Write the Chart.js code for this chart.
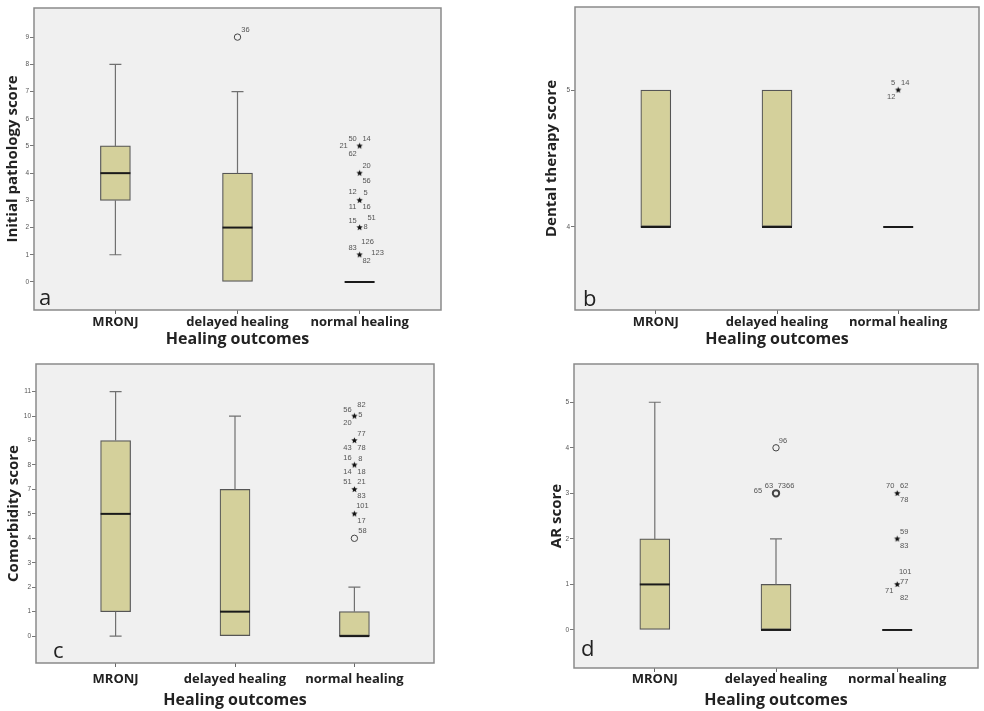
<!DOCTYPE html>
<html>
<head>
<meta charset="utf-8">
<script src="https://cdn.jsdelivr.net/npm/chart.js@4.4.1/dist/chart.umd.min.js"></script>
<style>
  body { margin: 0; background: #fff; width: 984px; height: 711px; position: relative; overflow: hidden; }
  canvas { position: absolute; }
</style>
</head>
<body>
<canvas id="chartA" width="490" height="350" style="left:0;top:0"></canvas>
<canvas id="chartB" width="494" height="350" style="left:490px;top:0"></canvas>
<canvas id="chartC" width="490" height="361" style="left:0;top:350px"></canvas>
<canvas id="chartD" width="494" height="361" style="left:490px;top:350px"></canvas>
<script>
// Groups on the x axis
const groups = ["MRONJ", "delayed healing", "normal healing"];

// Box stats per group: [min, q1, median, q3, max]
const pathologyBoxes = [[1, 3, 4, 5, 8], [0, 0, 2, 4, 7], [0, 0, 0, 0, 0]];
const dentalBoxes = [[4, 4, 4, 5, 5], [4, 4, 4, 5, 5], [4, 4, 4, 4, 4]];
const comorbidityBoxes = [[0, 1, 5, 9, 11], [0, 0, 1, 7, 10], [0, 0, 0, 1, 2]];
const arBoxes = [[0, 0, 1, 2, 5], [0, 0, 0, 1, 2], [0, 0, 0, 0, 0]];

// Tick labels on the y axis (comorbidity axis skips 6, as in the original)
const pathologyTicks = ["0", "1", "2", "3", "4", "5", "6", "7", "8", "9"];
const dentalTicks = ["4", "5"];
const comorbidityTicks = ["0", "1", "2", "3", "4", "5", "7", "8", "9", "10", "11"];
const arTicks = ["0", "1", "2", "3", "4", "5"];

// Outliers: [group number, value, marker, case ids]
const pathologyOutliers = [
  [2, 9, "circle", ["36"]],
  [3, 5, "star", ["50", "14", "21", "62"]],
  [3, 4, "star", ["20", "56"]],
  [3, 3, "star", ["12", "5", "11", "16"]],
  [3, 2, "star", ["15", "51", "8"]],
  [3, 1, "star", ["126", "83", "123", "82"]]
];
const dentalOutliers = [
  [3, 5, "star", ["5", "14", "12"]]
];
const comorbidityOutliers = [
  [3, 10, "star", ["56", "82", "5", "20"]],
  [3, 9, "star", ["77", "43", "78"]],
  [3, 8, "star", ["16", "8", "14", "18"]],
  [3, 7, "star", ["51", "21", "83"]],
  [3, 5, "star", ["101", "17"]],
  [3, 4, "circle", ["58"]]
];
const arOutliers = [
  [2, 4, "circle", ["96"]],
  [2, 3, "circle", ["65", "63", "7366"]],
  [3, 3, "star", ["70", "62", "78"]],
  [3, 2, "star", ["59", "83"]],
  [3, 1, "star", ["101", "77", "71", "82"]]
];

// Where each case id sits around its marker (px)
const pathologyIdPos = [
  [[8, -7]],
  [[-7, -7], [7, -7], [-16, 0], [-7, 8]],
  [[7, -7], [7, 8]],
  [[-7, -8], [6, -7], [-7, 7], [7, 7]],
  [[-7, -7], [12, -10], [6, -1]],
  [[8, -13], [-7, -7], [18, -2], [7, 6]]
];
const dentalIdPos = [[[-5, -7], [7, -7], [-7, 7]]];
const comorbidityIdPos = [
  [[-7, -6], [7, -11], [6, -1], [-7, 7]],
  [[7, -7], [-7, 7], [7, 7]],
  [[-7, -7], [6, -6], [-7, 7], [7, 7]],
  [[-7, -7], [7, -7], [7, 7]],
  [[8, -8], [7, 7]],
  [[8, -7]]
];
const arIdPos = [
  [[7, -7]],
  [[-18, -2], [-7, -7], [10, -7]],
  [[-7, -7], [7, -7], [7, 7]],
  [[7, -7], [7, 7]],
  [[8, -12], [7, -2], [-8, 7], [7, 14]]
];

const BOX_FILL = "#d4d09b";
const FONT = '"Open Sans", "DejaVu Sans", sans-serif';

// small filled star used as point style
function starImage(r, color) {
  const c = document.createElement("canvas");
  const s = Math.ceil(r * 2 + 2);
  c.width = c.height = s;
  const g = c.getContext("2d");
  g.fillStyle = color;
  g.beginPath();
  for (let i = 0; i < 10; i++) {
    const a = -Math.PI / 2 + i * Math.PI / 5;
    const rr = i % 2 ? r * 0.45 : r;
    g.lineTo(s / 2 + rr * Math.cos(a), s / 2 + rr * Math.sin(a));
  }
  g.closePath();
  g.fill();
  return c;
}
const starStyle = starImage(3.3, "#111");

function makePanel(id, P) {
  const pos = v => P.ticks.indexOf(String(v));

  const boxData = P.boxes
    .map((b, i) => ({ x: i + 1, y: [pos(b[1]), pos(b[3])] }))
    .filter(d => d.y[0] !== d.y[1]);

  const circles = P.outliers.filter(o => o[2] === "circle");
  const stars = P.outliers.filter(o => o[2] === "star");

  const boxPlugin = {
    id: "boxplot",
    beforeDraw(chart) {
      const { ctx, chartArea: a } = chart;
      ctx.save();
      ctx.fillStyle = "#f0f0f0";
      ctx.fillRect(a.left, a.top, a.right - a.left, a.bottom - a.top);
      ctx.restore();
    },
    afterDatasetsDraw(chart) {
      const { ctx, chartArea: a } = chart;
      const xs = chart.scales.x, ys = chart.scales.y;
      ctx.save();
      P.boxes.forEach((b, i) => {
        const cx = xs.getPixelForValue(i + 1);
        const yMin = ys.getPixelForValue(pos(b[0]));
        const yQ1 = ys.getPixelForValue(pos(b[1]));
        const yMed = ys.getPixelForValue(pos(b[2]));
        const yQ3 = ys.getPixelForValue(pos(b[3]));
        const yMax = ys.getPixelForValue(pos(b[4]));
        ctx.strokeStyle = "#707070";
        ctx.lineWidth = 1.2;
        if (b[4] > b[3]) {
          ctx.beginPath();
          ctx.moveTo(cx, yQ3); ctx.lineTo(cx, yMax);
          ctx.moveTo(cx - 6, yMax); ctx.lineTo(cx + 6, yMax);
          ctx.stroke();
        }
        if (b[0] < b[1]) {
          ctx.beginPath();
          ctx.moveTo(cx, yQ1); ctx.lineTo(cx, yMin);
          ctx.moveTo(cx - 6, yMin); ctx.lineTo(cx + 6, yMin);
          ctx.stroke();
        }
        // median
        ctx.strokeStyle = "#1a1a1a";
        ctx.lineWidth = 2;
        ctx.beginPath();
        ctx.moveTo(cx - 15, yMed); ctx.lineTo(cx + 15, yMed);
        ctx.stroke();
      });

      // case ids next to outliers
      ctx.font = "7.5px Arial, sans-serif";
      ctx.fillStyle = "#555";
      ctx.textAlign = "center";
      ctx.textBaseline = "middle";
      P.outliers.forEach((o, k) => {
        const px = xs.getPixelForValue(o[0]);
        const py = ys.getPixelForValue(pos(o[1]));
        o[3].forEach((t, j) => {
          const off = P.idPos[k][j];
          ctx.fillText(t, px + off[0], py + off[1]);
        });
      });

      // plot frame
      ctx.strokeStyle = "#8a8a8a";
      ctx.lineWidth = 1.5;
      ctx.strokeRect(a.left, a.top, a.right - a.left, a.bottom - a.top);

      // panel letter
      ctx.font = "22px " + FONT;
      ctx.fillStyle = "#222";
      ctx.textAlign = "left";
      ctx.textBaseline = "alphabetic";
      ctx.fillText(P.letter, a.left + P.letterDx, a.bottom - P.letterDy);
      ctx.restore();
    }
  };

  new Chart(document.getElementById(id), {
    type: "bar",
    data: {
      datasets: [
        {
          type: "bar",
          data: boxData,
          backgroundColor: BOX_FILL,
          borderColor: "#555",
          borderWidth: 1.2,
          borderSkipped: false,
          barThickness: 30,
          grouped: false
        },
        {
          type: "scatter",
          data: circles.map(o => ({ x: o[0], y: pos(o[1]) })),
          pointStyle: "circle",
          pointRadius: 3.2,
          pointBackgroundColor: "rgba(0,0,0,0)",
          pointBorderColor: "#444",
          pointBorderWidth: circles.map(o => (o[3].length > 1 ? 2 : 1))
        },
        {
          type: "scatter",
          data: stars.map(o => ({ x: o[0], y: pos(o[1]) })),
          pointStyle: starStyle
        }
      ]
    },
    options: {
      responsive: false,
      animation: false,
      layout: { padding: { left: 0, top: P.top, right: P.right, bottom: 0 } },
      plugins: { legend: { display: false }, tooltip: { enabled: false } },
      scales: {
        x: {
          type: "linear",
          min: 1 / 3,
          max: 11 / 3,
          offset: false,
          afterBuildTicks: s => { s.ticks = groups.map((g, i) => ({ value: i + 1 })); },
          afterFit: s => { s.height = P.xHeight; },
          grid: { offset: false, drawOnChartArea: false, drawTicks: true, tickLength: 4, color: "#666" },
          border: { display: false },
          ticks: {
            autoSkip: false,
            maxRotation: 0,
            padding: P.xPad,
            color: "#222",
            font: { family: FONT, size: 13, weight: "bold" },
            callback: v => groups[v - 1]
          },
          title: {
            display: true,
            text: "Healing outcomes",
            color: "#222",
            font: { family: FONT, size: 16, weight: "bold" },
            padding: { top: 0, bottom: 1 }
          }
        },
        y: {
          type: "linear",
          min: P.yMin,
          max: P.yMax,
          afterBuildTicks: s => { s.ticks = P.ticks.map((t, i) => ({ value: i })); },
          afterFit: s => { s.width = P.yWidth; },
          grid: { drawOnChartArea: false, drawTicks: true, tickLength: 4, color: "#777" },
          border: { display: false },
          ticks: {
            autoSkip: false,
            padding: 1,
            color: "#555",
            font: { family: "Arial, sans-serif", size: 6.5 },
            callback: v => P.ticks[v]
          },
          title: {
            display: true,
            text: P.yTitle,
            color: "#222",
            font: { family: FONT, size: 15, weight: "bold" },
            padding: { top: P.yTitlePad, bottom: 0 }
          }
        }
      }
    },
    plugins: [boxPlugin]
  });
}

makePanel("chartA", {
  boxes: pathologyBoxes, ticks: pathologyTicks, outliers: pathologyOutliers, idPos: pathologyIdPos,
  yTitle: "Initial pathology score", letter: "a",
  yMin: -1.03, yMax: 10.07, top: 8, right: 49, yWidth: 34, xHeight: 40, xPad: 0,
  yTitlePad: 4, letterDx: 5, letterDy: 5
});
makePanel("chartB", {
  boxes: dentalBoxes, ticks: dentalTicks, outliers: dentalOutliers, idPos: dentalIdPos,
  yTitle: "Dental therapy score", letter: "b",
  yMin: -0.606, yMax: 1.606, top: 7, right: 1, yWidth: 85, xHeight: 40, xPad: 0,
  yTitlePad: 53, letterDx: 8, letterDy: 4
});
makePanel("chartC", {
  boxes: comorbidityBoxes, ticks: comorbidityTicks, outliers: comorbidityOutliers, idPos: comorbidityIdPos,
  yTitle: "Comorbidity score", letter: "c",
  yMin: -1.1, yMax: 11.13, top: 14, right: 56, yWidth: 36, xHeight: 48, xPad: 4,
  yTitlePad: 5, letterDx: 17, letterDy: 5
});
makePanel("chartD", {
  boxes: arBoxes, ticks: arTicks, outliers: arOutliers, idPos: arIdPos,
  yTitle: "AR score", letter: "d",
  yMin: -0.835, yMax: 5.84, top: 14, right: 1, yWidth: 84, xHeight: 43, xPad: -1,
  yTitlePad: 58, letterDx: 7, letterDy: 12
});
</script>
</body>
</html>
